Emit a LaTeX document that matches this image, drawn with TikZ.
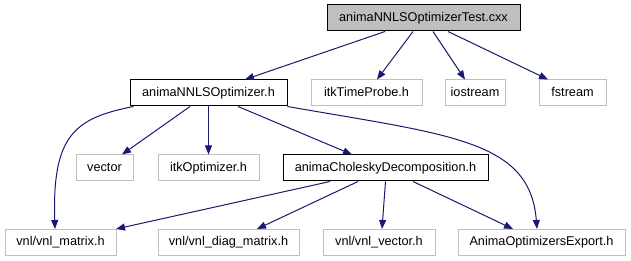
\documentclass[tikz,border=0pt]{standalone}
\usepackage{fontspec}
\setmainfont{Liberation Sans}
\usetikzlibrary{arrows.meta}

\definecolor{edgeblue}{HTML}{191970}
\definecolor{boxgray}{HTML}{BFBFBF}

\begin{document}
\begin{tikzpicture}[
    x=1pt, y=-1pt,
    file/.style={rectangle, draw=black, line width=1pt, minimum height=26pt, inner xsep=0pt,
        text height=9pt, text depth=2.5pt, font=\fontsize{12.7}{15}\selectfont},
    sysfile/.style={file, draw=boxgray},
    dep/.style={draw=edgeblue, line width=1pt, -{Triangle[length=9pt,width=7pt]}}
]
    \useasboundingbox (0,0) rectangle (631,261);

    % Fichiers du projet
    \node[file, fill=boxgray, minimum width=193pt] (test) at (423.5,18) {animaNNLSOptimizerTest.cxx};
    \node[file, minimum width=157pt] (nnls) at (208.5,93) {animaNNLSOptimizer.h};
    \node[file, minimum width=205pt] (chol) at (385.5,168) {animaCholeskyDecomposition.h};

    % En-têtes externes
    \foreach \name/\x/\y/\w/\label in {probe/366.5/93/111/itkTimeProbe.h, iostream/475/93/60/iostream,
        fstream/572.5/93/67/fstream, vector/104.5/168/57/vector, itkopt/208.5/168/101/itkOptimizer.h,
        matrix/60.5/242.5/111/{vnl/vnl\_matrix.h}, diag/228.5/242.5/141/{vnl/vnl\_diag\_matrix.h},
        vvector/379/242.5/112/{vnl/vnl\_vector.h}, export/541.5/242.5/167/AnimaOptimizersExport.h} {
        \node[sysfile, minimum width=\w pt] (\name) at (\x,\y) {\label};
    }

    % Inclusions du test
    \draw[dep] ([xshift=-38.5pt]test.south) -- ([xshift=36.5pt]nnls.north);
    \draw[dep] ([xshift=-10.5pt]test.south) -- ([xshift=10.5pt]probe.north);
    \draw[dep] ([xshift=9.5pt]test.south) -- ([xshift=-10pt]iostream.north);
    \draw[dep] ([xshift=24.5pt]test.south) -- ([xshift=-24.5pt]fstream.north);

    % Inclusions de animaNNLSOptimizer.h
    \draw[dep] ([xshift=4pt]nnls.south west) .. controls (75,118) and (52,135) .. ([xshift=-5.5pt]matrix.north);
    \draw[dep] ([xshift=-18.5pt]nnls.south) -- ([xshift=17.5pt]vector.north);
    \draw[dep] (nnls.south) -- (itkopt.north);
    \draw[dep] ([xshift=29.5pt]nnls.south) -- ([xshift=-33.5pt]chol.north);
    \draw[dep] (nnls.south east) .. controls (450,135) and (530,140) .. ([xshift=-4.5pt]export.north);

    % Inclusions de animaCholeskyDecomposition.h
    \draw[dep] ([xshift=-55.5pt]chol.south) -- ([xshift=55.5pt]matrix.north);
    \draw[dep] ([xshift=-27.5pt]chol.south) -- ([xshift=28.5pt]diag.north);
    \draw[dep] (chol.south) -- ([xshift=3pt]vvector.north);
    \draw[dep] ([xshift=27.5pt]chol.south) -- ([xshift=-28.5pt]export.north);
\end{tikzpicture}
\end{document}
